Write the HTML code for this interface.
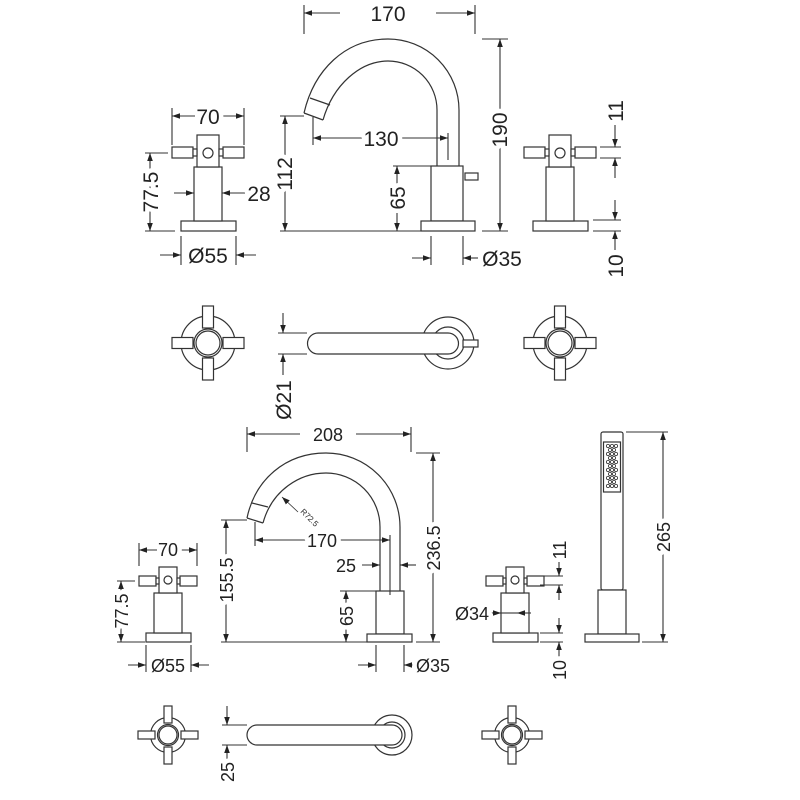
<!DOCTYPE html>
<html><head><meta charset="utf-8"><style>
html,body{margin:0;padding:0;background:#fff;}
svg{display:block;}
text{font-family:"Liberation Sans",sans-serif;fill:#222;paint-order:stroke;stroke:#fff;stroke-width:9px;stroke-linejoin:round;}
</style></head><body>
<svg width="800" height="800" viewBox="0 0 800 800" xmlns="http://www.w3.org/2000/svg">
<defs>
<marker id="a" viewBox="0 0 10 10" refX="10" refY="5" markerWidth="8" markerHeight="8" markerUnits="userSpaceOnUse" orient="auto-start-reverse"><path d="M0,1.5 L10,5 L0,8.5 z" fill="#222"/></marker>
</defs>
<g fill="#fff" stroke="#333" stroke-width="1.2">
<rect x="181" y="221" width="55" height="10"/>
<rect x="194" y="167" width="28" height="54"/>
<rect x="197" y="135" width="22" height="32"/>
<circle cx="208" cy="153" r="5"/>
<rect x="172" y="147" width="21" height="11"/><rect x="223" y="147" width="21" height="11"/>
<rect x="193" y="149" width="4" height="7"/><rect x="219" y="149" width="4" height="7"/>
<rect x="533" y="221" width="55" height="10"/>
<rect x="546" y="167" width="28" height="54"/>
<rect x="549" y="135" width="22" height="32"/>
<circle cx="560" cy="153" r="5"/>
<rect x="524" y="147" width="21" height="11"/><rect x="575" y="147" width="21" height="11"/>
<rect x="545" y="149" width="4" height="7"/><rect x="571" y="149" width="4" height="7"/>
<path fill="none" d="M459,166 L459,110 A71,71 0 0 0 388,39 C345,39 314,70 304,113"/>
<path fill="none" d="M437,166 L437,110 A49,49 0 0 0 388,61 C360,61 333,85 323,120"/>
<path fill="none" d="M304,113 L323,120 M310,98 L330,105"/>
<rect x="465" y="173" width="13" height="7"/>
<rect x="431" y="166" width="32" height="55"/>
<rect x="421" y="221" width="54" height="10"/>

<g id="crossA">
<circle cx="208" cy="343" r="27"/>
<circle cx="208" cy="343" r="14"/><circle cx="208" cy="343" r="12"/>
<rect x="172" y="337.5" width="21" height="11"/><rect x="223" y="337.5" width="21" height="11"/>
<rect x="202.5" y="306" width="11" height="22"/><rect x="202.5" y="358" width="11" height="22"/>
</g>
<use href="#crossA" transform="translate(352,0)"/>
<circle cx="448" cy="343" r="26"/>
<circle cx="448" cy="343" r="16"/>
<path d="M318,333 L448,333 A10.5,10.5 0 0 1 448,354 L318,354 A10.5,10.5 0 0 1 318,333 z"/>
<rect x="463" y="340" width="15" height="7"/>

<rect x="146" y="633" width="45" height="9"/>
<rect x="154" y="593" width="28" height="40"/>
<rect x="159" y="567" width="18" height="26"/>
<circle cx="168" cy="580" r="4"/>
<rect x="139" y="576" width="17" height="10"/><rect x="180" y="576" width="17" height="10"/>
<rect x="156" y="578" width="3" height="6"/><rect x="177" y="578" width="3" height="6"/>
<rect x="493" y="633" width="45" height="9"/>
<rect x="501" y="593" width="28" height="40"/>
<rect x="506" y="567" width="18" height="26"/>
<circle cx="515" cy="580" r="4"/>
<rect x="486" y="576" width="17" height="10"/><rect x="527" y="576" width="17" height="10"/>
<rect x="503" y="578" width="3" height="6"/><rect x="524" y="578" width="3" height="6"/>
<path fill="none" d="M400,591 L400,527 A74,74 0 0 0 326,453 C285,453 255,480 247,518"/>
<path fill="none" d="M380,591 L380,527 A54,54 0 0 0 326,473 C300,473 272,490 263,523"/>
<path fill="none" d="M247,518 L263,523 M252,503 L268,507"/>
<rect x="376" y="591" width="28" height="43"/>
<rect x="367" y="634" width="45" height="8"/>
<rect x="601" y="432" width="22" height="158" rx="2"/>
<rect x="603.5" y="442" width="17" height="50"/>
<rect x="598" y="590" width="28" height="44"/>
<rect x="585" y="634" width="54" height="8"/>
<g stroke-width="0.8" fill="none">
<circle cx="608" cy="446" r="1.6"/><circle cx="612" cy="446" r="1.6"/><circle cx="616" cy="446" r="1.6"/>
<circle cx="610" cy="450" r="1.6"/><circle cx="614" cy="450" r="1.6"/>
<circle cx="608" cy="454" r="1.6"/><circle cx="612" cy="454" r="1.6"/><circle cx="616" cy="454" r="1.6"/>
<circle cx="610" cy="458" r="1.6"/><circle cx="614" cy="458" r="1.6"/>
<circle cx="608" cy="462" r="1.6"/><circle cx="612" cy="462" r="1.6"/><circle cx="616" cy="462" r="1.6"/>
<circle cx="610" cy="466" r="1.6"/><circle cx="614" cy="466" r="1.6"/>
<circle cx="608" cy="470" r="1.6"/><circle cx="612" cy="470" r="1.6"/><circle cx="616" cy="470" r="1.6"/>
<circle cx="610" cy="474" r="1.6"/><circle cx="614" cy="474" r="1.6"/>
<circle cx="608" cy="478" r="1.6"/><circle cx="612" cy="478" r="1.6"/><circle cx="616" cy="478" r="1.6"/>
<circle cx="610" cy="482" r="1.6"/><circle cx="614" cy="482" r="1.6"/>
<circle cx="608" cy="486" r="1.6"/><circle cx="612" cy="486" r="1.6"/><circle cx="616" cy="486" r="1.6"/>
</g>

<g id="crossB">
<circle cx="168" cy="735" r="17.5"/>
<circle cx="168" cy="735" r="10.5"/><circle cx="168" cy="735" r="9"/>
<rect x="138" y="731" width="17" height="8"/><rect x="181" y="731" width="17" height="8"/>
<rect x="164" y="706" width="8" height="17"/><rect x="164" y="747" width="8" height="17"/>
</g>
<use href="#crossB" transform="translate(344,0)"/>
<circle cx="392" cy="735" r="20"/>
<circle cx="392" cy="735" r="13"/>
<path d="M257,725 L392,725 A10,10 0 0 1 392,745 L257,745 A10,10 0 0 1 257,725 z"/>
</g>

<g fill="none" stroke="#333" stroke-width="1.1">
<path d="M304,5 V34 M475,5 V34"/>
<line x1="340" y1="13" x2="304" y2="13" marker-end="url(#a)"/><line x1="436" y1="13" x2="475" y2="13" marker-end="url(#a)"/>
<path d="M482,39 H508 M482,231 H508"/>
<line x1="500" y1="39" x2="500" y2="231" marker-start="url(#a)" marker-end="url(#a)"/>
<path d="M280,116 H304 M280,231 H421"/>
<line x1="285" y1="116" x2="285" y2="231" marker-start="url(#a)" marker-end="url(#a)"/>
<path d="M313,117 V145 M448,133 V160"/>
<line x1="313" y1="138" x2="448" y2="138" marker-start="url(#a)" marker-end="url(#a)"/>
<path d="M393,166 H431"/>
<line x1="397" y1="166" x2="397" y2="231" marker-start="url(#a)" marker-end="url(#a)"/>
<path d="M431,236 V265 M463,236 V265"/>
<line x1="412" y1="258" x2="431" y2="258" marker-end="url(#a)"/><line x1="478" y1="258" x2="463" y2="258" marker-end="url(#a)"/>
<path d="M172,108 V145 M244,108 V145"/>
<line x1="195" y1="116" x2="172" y2="116" marker-end="url(#a)"/><line x1="221" y1="116" x2="244" y2="116" marker-end="url(#a)"/>
<path d="M145,153 H168 M145,231 H175"/>
<line x1="150" y1="153" x2="150" y2="231" marker-start="url(#a)" marker-end="url(#a)"/>
<line x1="174" y1="193" x2="194" y2="193" marker-end="url(#a)"/><line x1="245" y1="193" x2="222" y2="193" marker-end="url(#a)"/>
<path d="M181,236 V265 M236,236 V265"/>
<line x1="160" y1="255" x2="181" y2="255" marker-end="url(#a)"/><line x1="256" y1="255" x2="236" y2="255" marker-end="url(#a)"/>
<path d="M600,147 H621 M600,158 H621"/>
<line x1="615" y1="125" x2="615" y2="147" marker-end="url(#a)"/><line x1="615" y1="178" x2="615" y2="158" marker-end="url(#a)"/>
<path d="M593,220 H621 M593,231 H621"/>
<line x1="615" y1="200" x2="615" y2="220" marker-end="url(#a)"/><line x1="615" y1="250" x2="615" y2="231" marker-end="url(#a)"/>
<path d="M278,333 H307 M278,354 H307"/>
<line x1="283" y1="313" x2="283" y2="333" marker-end="url(#a)"/><line x1="283" y1="375" x2="283" y2="354" marker-end="url(#a)"/>

<path d="M247,427 V452 M411,427 V452"/>
<line x1="300" y1="434" x2="247" y2="434" marker-end="url(#a)"/><line x1="356" y1="434" x2="411" y2="434" marker-end="url(#a)"/>
<path d="M416,453 H440 M416,642 H440"/>
<line x1="433" y1="453" x2="433" y2="642" marker-start="url(#a)" marker-end="url(#a)"/>
<path d="M221,520 H247 M221,642 H367"/>
<line x1="226" y1="520" x2="226" y2="642" marker-start="url(#a)" marker-end="url(#a)"/>
<path d="M255,522 V546 M390,535 V595"/>
<line x1="255" y1="540" x2="390" y2="540" marker-start="url(#a)" marker-end="url(#a)"/>
<line x1="362" y1="565" x2="380" y2="565" marker-end="url(#a)"/><line x1="416" y1="565" x2="400" y2="565" marker-end="url(#a)"/>
<path d="M340,591 H376"/>
<line x1="346" y1="591" x2="346" y2="642" marker-start="url(#a)" marker-end="url(#a)"/>
<path d="M376,645 V672 M404,645 V672"/>
<line x1="358" y1="665" x2="376" y2="665" marker-end="url(#a)"/><line x1="416" y1="665" x2="404" y2="665" marker-end="url(#a)"/>
<path d="M139,543 V566 M197,543 V566"/>
<line x1="157" y1="550" x2="139" y2="550" marker-end="url(#a)"/><line x1="180" y1="550" x2="197" y2="550" marker-end="url(#a)"/>
<path d="M117,581 H135 M117,642 H145"/>
<line x1="121" y1="581" x2="121" y2="642" marker-start="url(#a)" marker-end="url(#a)"/>
<path d="M146,645 V672 M191,645 V672"/>
<line x1="128" y1="665" x2="146" y2="665" marker-end="url(#a)"/><line x1="209" y1="665" x2="191" y2="665" marker-end="url(#a)"/>
<line x1="489" y1="613" x2="501" y2="613" marker-end="url(#a)"/><line x1="531" y1="613" x2="517" y2="613" marker-end="url(#a)"/>
<line x1="501" y1="613" x2="517" y2="613"/>
<path d="M540,576 H563 M540,585 H563"/>
<line x1="559" y1="562" x2="559" y2="576" marker-end="url(#a)"/><line x1="559" y1="600" x2="559" y2="585" marker-end="url(#a)"/>
<path d="M540,633 H563 M540,642 H563"/>
<line x1="559" y1="618" x2="559" y2="633" marker-end="url(#a)"/><line x1="559" y1="660" x2="559" y2="642" marker-end="url(#a)"/>
<path d="M626,432 H668 M642,642 H668"/>
<line x1="663" y1="432" x2="663" y2="642" marker-start="url(#a)" marker-end="url(#a)"/>
<line x1="298" y1="512" x2="282" y2="497" stroke-width="0.8" marker-end="url(#a)"/>
<path d="M222,725 H247 M222,745 H247"/>
<line x1="227" y1="706" x2="227" y2="725" marker-end="url(#a)"/><line x1="227" y1="765" x2="227" y2="745" marker-end="url(#a)"/>
</g>

<g font-size="21" text-anchor="middle">
<text x="388" y="21">170</text>
<text transform="translate(507,130) rotate(-90)">190</text>
<text transform="translate(292,174) rotate(-90)">112</text>
<text x="381" y="146">130</text>
<text transform="translate(405,198) rotate(-90)">65</text>
<text x="502" y="266">Ø35</text>
<text x="208" y="124">70</text>
<text transform="translate(158,192) rotate(-90)">77.5</text>
<text x="259" y="201">28</text>
<text x="208" y="263">Ø55</text>
<text transform="translate(623,111) rotate(-90)">11</text>
<text transform="translate(623,266) rotate(-90)">10</text>
<text transform="translate(291,400) rotate(-90)">Ø21</text>
</g>
<g font-size="18" text-anchor="middle">
<text x="328" y="441">208</text>
<text transform="translate(440,548) rotate(-90)">236.5</text>
<text transform="translate(233,580) rotate(-90)">155.5</text>
<text x="322" y="547">170</text>
<text x="346" y="572">25</text>
<text transform="translate(353,616) rotate(-90)">65</text>
<text x="433" y="672">Ø35</text>
<text x="168" y="556">70</text>
<text transform="translate(128,611) rotate(-90)">77.5</text>
<text x="168" y="672">Ø55</text>
<text x="472" y="620">Ø34</text>
<text transform="translate(566,550) rotate(-90)">11</text>
<text transform="translate(566,670) rotate(-90)">10</text>
<text transform="translate(670,537) rotate(-90)">265</text>
<text transform="translate(234,772) rotate(-90)">25</text>
</g>
<text transform="translate(300,512) rotate(45)" font-size="8" fill="#555" style="stroke-width:2px">R72.5</text>
</svg>
</body></html>
